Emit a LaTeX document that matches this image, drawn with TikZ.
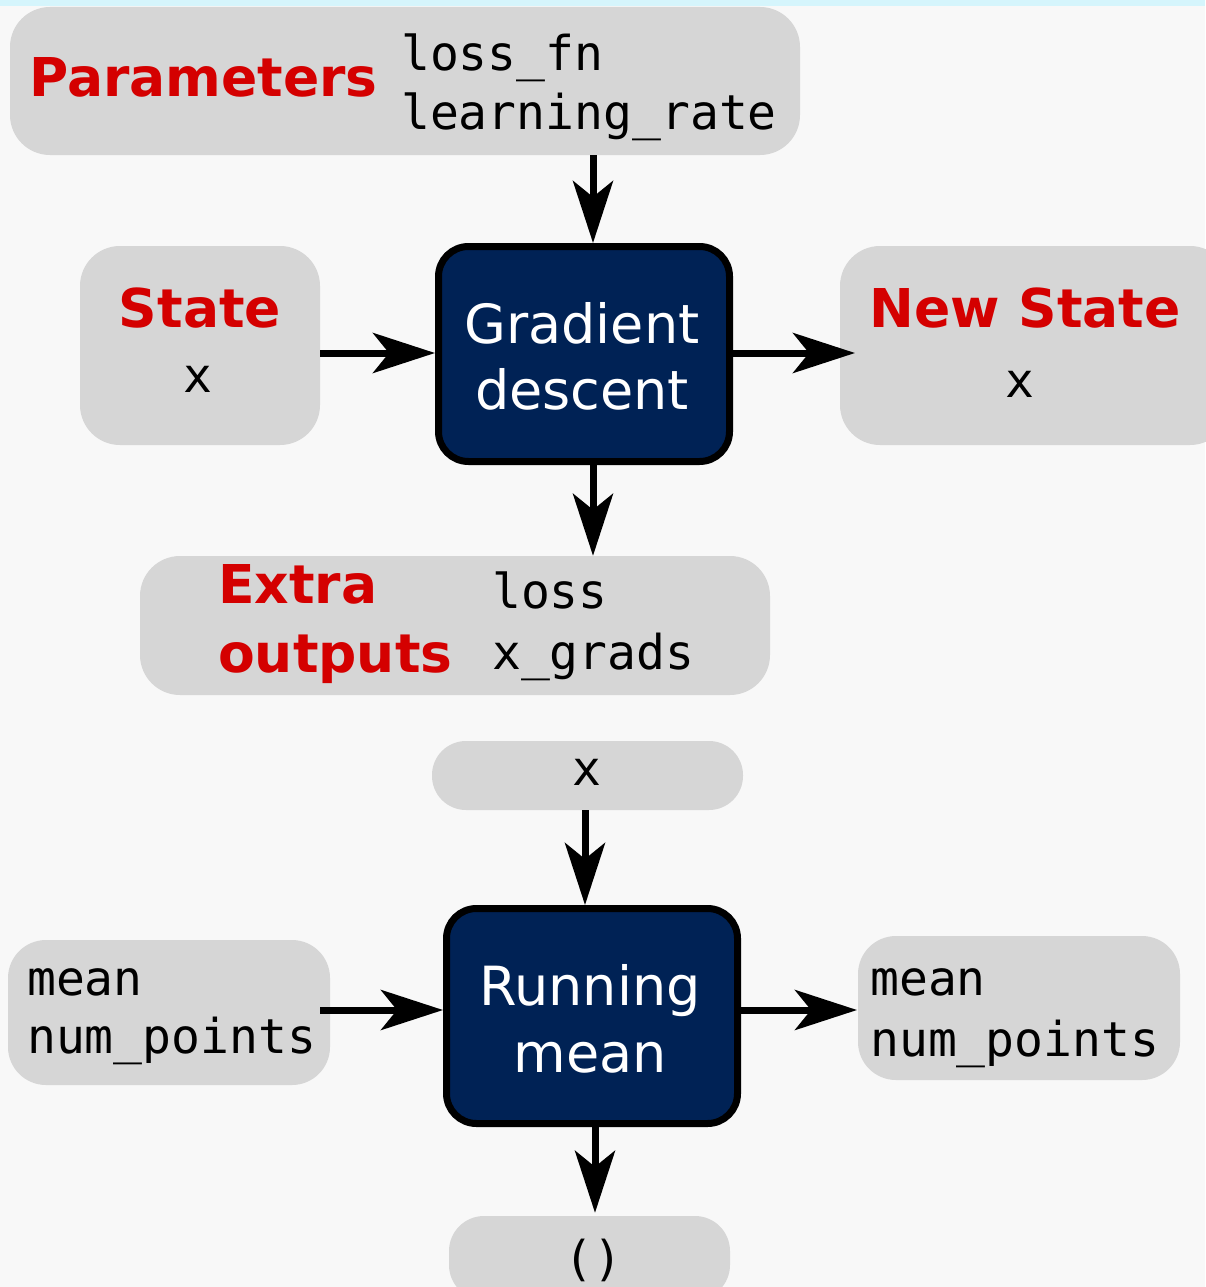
\documentclass[tikz,border=0pt]{standalone}
\usepackage{fontspec}
\setmainfont{DejaVu Sans}
\newfontfamily\monof{DejaVu Sans Mono}
\usetikzlibrary{arrows.meta}
\definecolor{bgc}{HTML}{F8F8F8}
\definecolor{topc}{HTML}{D5F5FC}
\definecolor{boxc}{HTML}{D6D6D6}
\definecolor{navy}{HTML}{002255}
\definecolor{redc}{HTML}{D40000}
\begin{document}
\begin{tikzpicture}[x=1pt,y=-1pt,
  gbox/.style={rectangle, fill=boxc, draw=none, rounded corners=#1, inner sep=0pt},
  gbox/.default=38pt,
  procbox/.style={rectangle, fill=navy, draw=black, line width=7pt, rounded corners=30pt,
    minimum width=291pt, minimum height=215pt, inner sep=0pt},
  redlbl/.style={inner sep=0pt, text=redc, font=\fontsize{53.5}{60}\selectfont\bfseries},
  code/.style={inner sep=0pt, text=black, font=\fontsize{48}{58}\selectfont\monof},
  whitelbl/.style={inner sep=0pt, text=white, font=\fontsize{54}{64}\selectfont},
  arr/.style={line width=7pt, draw=black, -{Stealth[length=62pt,width=40pt,inset=16pt]}}
]
\useasboundingbox (0,0) rectangle (1205,1287);
\fill[bgc] (0,0) rectangle (1205,1287);
\fill[topc] (0,0) rectangle (1205,6);

% boxes
\node[gbox=40pt, minimum width=790pt, minimum height=148pt] (par) at (405,81) {};
\node[gbox=40pt, minimum width=240pt, minimum height=199pt] (state) at (200,345.5) {};
\node[gbox=40pt, minimum width=390pt, minimum height=199pt] (nstate) at (1035,345.5) {};
\node[gbox=40pt, minimum width=630pt, minimum height=139pt] (extra) at (455,625.5) {};
\node[gbox=34pt, minimum width=311pt, minimum height=69pt] (xin) at (587.5,775.5) {};
\node[gbox=38pt, minimum width=322pt, minimum height=145pt] (lmean) at (169,1012.5) {};
\node[gbox=38pt, minimum width=322pt, minimum height=144pt] (rmean) at (1019,1008) {};
\node[gbox=35pt, minimum width=281pt, minimum height=84pt] (unit) at (589.5,1258) {};
\node[procbox] (gd) at (584,354) {};
\node[procbox] (rm) at (592,1016) {};

% texts
\node[redlbl, anchor=base west] (tpar) at (29,97) {Parameters};
\node[code, anchor=base west] (tlossfn) at (401,71) {loss\_fn};
\node[code, anchor=base west] (tlr) at (401,130) {learning\_rate};

\node[redlbl, anchor=base] (tstate) at (200,327) {State};
\node[code, anchor=base] (tsx) at (198,392) {x};

\node[redlbl, anchor=base] (tnstate) at (1025,327) {New State};
\node[code, anchor=base] (tnsx) at (1020,397) {x};

\node[whitelbl, anchor=base] (tgd1) at (582,343) {Gradient};
\node[whitelbl, anchor=base] (tgd2) at (582,409) {descent};

\node[redlbl, anchor=base west] (textra) at (218,603) {Extra};
\node[redlbl, anchor=base west] (toutputs) at (218,672) {outputs};
\node[code, anchor=base west] (tloss) at (492,608) {loss};
\node[code, anchor=base west] (txg) at (492,669) {x\_grads};

\node[code, anchor=base] (txin) at (587,785) {x};

\node[whitelbl, anchor=base] (trm1) at (590,1005) {Running};
\node[whitelbl, anchor=base] (trm2) at (590,1072) {mean};

\node[code, anchor=base west] (tlm1) at (27,995) {mean};
\node[code, anchor=base west] (tlm2) at (27,1053) {num\_points};
\node[code, anchor=base west] (trm1b) at (870,995) {mean};
\node[code, anchor=base west] (trm2b) at (870,1056) {num\_points};

\node[code, anchor=base] (tunit) at (593,1275) {()};

% connector end points
\coordinate (gdtop) at (593,243);
\coordinate (gdbot) at (593,465);
\coordinate (nsin) at (855,353);
\coordinate (rmtop) at (585,905);
\coordinate (rmbot) at (595,1127);
\coordinate (rmin) at (443,1010);
\coordinate (rmout) at (857,1010);
\coordinate (gdin) at (435,353);

% connectors
\draw[arr] (par.south -| gdtop) -- (gdtop);
\draw[arr] (state.east |- gdin) -- (gdin);
\draw[arr] (gd.east |- nsin) -- (nsin);
\draw[arr] (gdbot) -- (extra.north -| gdbot);
\draw[arr] (xin.south -| rmtop) -- (rmtop);
\draw[arr] ([xshift=-10pt]lmean.east |- rmin) -- (rmin);
\draw[arr] (rm.east |- rmout) -- (rmout);
\draw[arr] (rmbot) -- ([yshift=3pt]unit.north -| rmbot);
\end{tikzpicture}
\end{document}
